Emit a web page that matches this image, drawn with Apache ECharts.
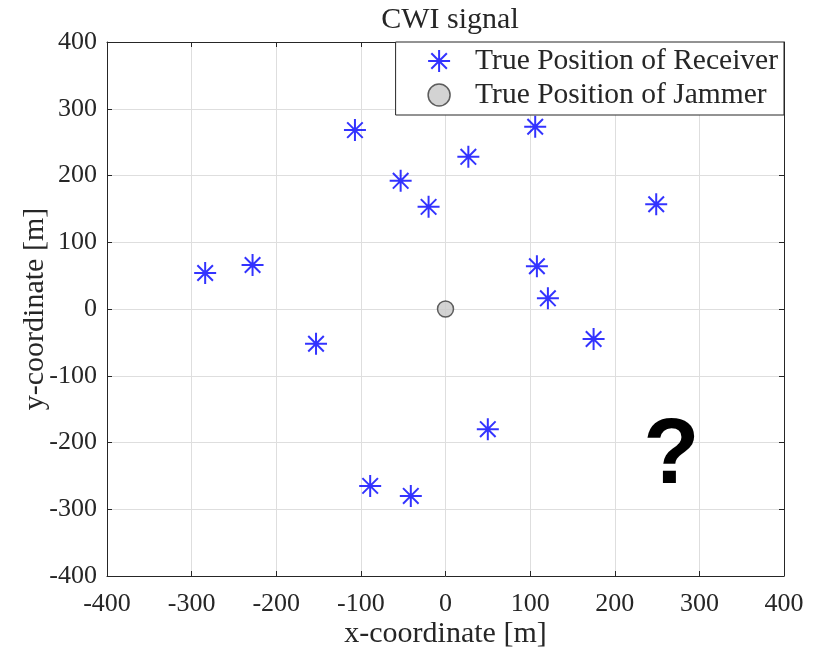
<!DOCTYPE html>
<html>
<head>
<meta charset="utf-8">
<script src="https://cdn.jsdelivr.net/npm/echarts@6/dist/echarts.min.js"></script>
<style>
  html, body { margin: 0; padding: 0; background: #fff; }
  #chart { width: 817px; height: 652px; }
</style>
</head>
<body>
<div id="chart"></div>
<script>
// receiver positions [x, y] in metres
const receiverX = [-107, 27, 106, -53, -20, 249, -284, -228, 108, 121, -153, 175, 50, -89, -41]
const receiverY = [268, 228, 273, 192, 153, 157, 54, 66, 64, 16, -52, -45, -180, -265, -280]
const jammerX = [0]
const jammerY = [0]
const axisTicks = [-400, -300, -200, -100, 0, 100, 200, 300, 400]

const serif = '"Liberation Serif", "Times New Roman", serif'
const textColor = '#262626'
const asterisk = 'path://M0,-10L0,10M-10,0L10,0M-7.07,-7.07L7.07,7.07M-7.07,7.07L7.07,-7.07'

const chart = echarts.init(document.getElementById('chart'))

const axisBase = {
  type: 'value',
  min: axisTicks[0],
  max: axisTicks[axisTicks.length - 1],
  interval: 100,
  axisLine: { show: true, onZero: false, lineStyle: { color: textColor, width: 1 } },
  axisTick: { show: true, inside: true, length: 5, lineStyle: { color: textColor } },
  axisLabel: { color: textColor, fontFamily: serif, fontSize: 26 },
  splitLine: { show: true, lineStyle: { color: '#dedede', width: 1 } },
  nameTextStyle: { color: textColor, fontFamily: serif, fontSize: 30 }
}

const option = {
  backgroundColor: '#fff',
  animation: false,
  title: {
    text: 'CWI signal',
    left: 445,
    textAlign: 'center',
    top: 0,
    textStyle: { color: textColor, fontFamily: serif, fontSize: 30, fontWeight: 'normal' }
  },
  grid: { left: 107, right: 33, top: 42, bottom: 76, outerBoundsMode: 'none', containLabel: false },
  xAxis: [
    Object.assign({}, axisBase, {
      name: 'x-coordinate [m]',
      nameLocation: 'middle',
      nameGap: 43,
      nameMoveOverlap: false,
      axisLabel: Object.assign({}, axisBase.axisLabel, { margin: 15 })
    }),
    Object.assign({}, axisBase, {
      position: 'top',
      axisLabel: { show: false },
      splitLine: { show: false }
    })
  ],
  yAxis: [
    Object.assign({}, axisBase, {
      name: 'y-coordinate [m]',
      nameLocation: 'middle',
      nameGap: 57,
      nameMoveOverlap: false,
      axisLabel: Object.assign({}, axisBase.axisLabel, { margin: 10 })
    }),
    Object.assign({}, axisBase, {
      position: 'right',
      axisLabel: { show: false },
      splitLine: { show: false }
    })
  ],
  legend: {
    orient: 'vertical',
    right: 33,
    top: 42,
    backgroundColor: '#fff',
    borderColor: textColor,
    borderWidth: 1,
    borderRadius: 0,
    padding: [4, 6, 5, 30],
    itemGap: 4,
    itemWidth: 22,
    itemHeight: 22,
    textStyle: { color: textColor, fontFamily: serif, fontSize: 29.5, padding: [0, 0, 0, 20] },
    data: [
      { name: 'True Position of Receiver', icon: asterisk, itemStyle: { color: 'none', borderColor: '#0000ff', borderWidth: 2 } },
      { name: 'True Position of Jammer', icon: 'circle', itemStyle: { color: '#c8c8c8', borderColor: '#3a3a3a', borderWidth: 1.5 } }
    ]
  },
  series: [
    {
      name: 'True Position of Receiver',
      type: 'scatter',
      symbol: asterisk,
      symbolSize: 22,
      itemStyle: { color: 'none', borderColor: '#0000ff', borderWidth: 2 },
      data: receiverX.map((x, i) => [x, receiverY[i]]),
      z: 3
    },
    {
      name: 'True Position of Jammer',
      type: 'scatter',
      symbol: 'circle',
      symbolSize: 16,
      itemStyle: { color: '#c8c8c8', borderColor: '#3a3a3a', borderWidth: 1.5 },
      data: jammerX.map((x, i) => [x, jammerY[i]]),
      z: 3
    }
  ]
}

chart.setOption(option)

// big question mark annotation in the lower right
const qPos = chart.convertToPixel({ xAxisIndex: 0, yAxisIndex: 0 }, [267, -222])
chart.setOption({
  graphic: [{
    type: 'text',
    x: qPos[0],
    y: qPos[1],
    z: 10,
    style: {
      text: '?',
      fill: '#000',
      font: 'bold 92px "Liberation Sans", Arial, sans-serif',
      textAlign: 'center',
      textVerticalAlign: 'middle'
    }
  }]
})
</script>
</body>
</html>
